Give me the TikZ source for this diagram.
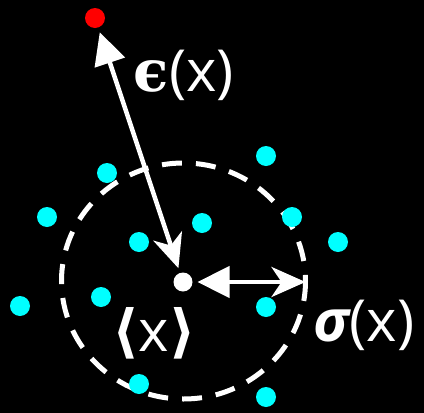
\documentclass[tikz,border=0pt]{standalone}
\usepackage{fontspec}
\setmainfont{Open Sans}
\newfontfamily\brk{DejaVu Sans}
\newfontfamily\epsfont{DejaVu Serif}
\usetikzlibrary{arrows.meta}
\definecolor{aqua}{RGB}{0,255,255}
\definecolor{hotred}{RGB}{255,0,0}
\begin{document}
\begin{tikzpicture}[x=1pt,y=-1pt,
  dot/.style={circle,inner sep=0pt,minimum size=20pt},
  cdot/.style={dot,fill=aqua},
  lbl/.style={text=white,font=\fontsize{58}{60}\selectfont,anchor=base,inner sep=0pt},
  arr/.style={white,line width=4.5pt,{Triangle[length=32pt,width=31pt]}-{Stealth[length=34pt,width=30pt,inset=10pt]}}]
\fill[black] (0,0) rectangle (424,413);
\useasboundingbox (0,0) rectangle (424,413);
\draw[white,line width=5pt,dash pattern=on 20pt off 14pt] (183.5,281) ellipse [x radius=122, y radius=118];
\node[cdot] (c1) at (266,156) {};
\node[cdot] (c2) at (107,173) {};
\node[cdot] (c3) at (47,217) {};
\node[cdot] (c4) at (202,223) {};
\node[cdot] (c5) at (292,217) {};
\node[cdot] (c6) at (139,242) {};
\node[cdot] (c7) at (338,242) {};
\node[cdot] (c8) at (20,306) {};
\node[cdot] (c9) at (101,297) {};
\node[cdot] (c10) at (266,307) {};
\node[cdot] (c11) at (139,384) {};
\node[cdot] (c12) at (266,397) {};
\node[dot,fill=hotred,outer sep=5pt] (red) at (95,18) {};
\node[dot,fill=white,minimum size=19pt,outer sep=5pt] (mean) at (183,282) {};
\coordinate (rim) at (305.5,282);
\draw[arr] (red) -- (mean);
\draw[arr] (mean) -- (rim);
\node[lbl] (eps) at (184,91) {{\epsfont\bfseries ϵ}(x)};
\node[lbl] (avg) at (154,351) {{\brk\bfseries ⟨}x{\brk\bfseries ⟩}};
\node[lbl] (sig) at (364,341) {{\bfseries\itshape σ}(x)};
\end{tikzpicture}
\end{document}
